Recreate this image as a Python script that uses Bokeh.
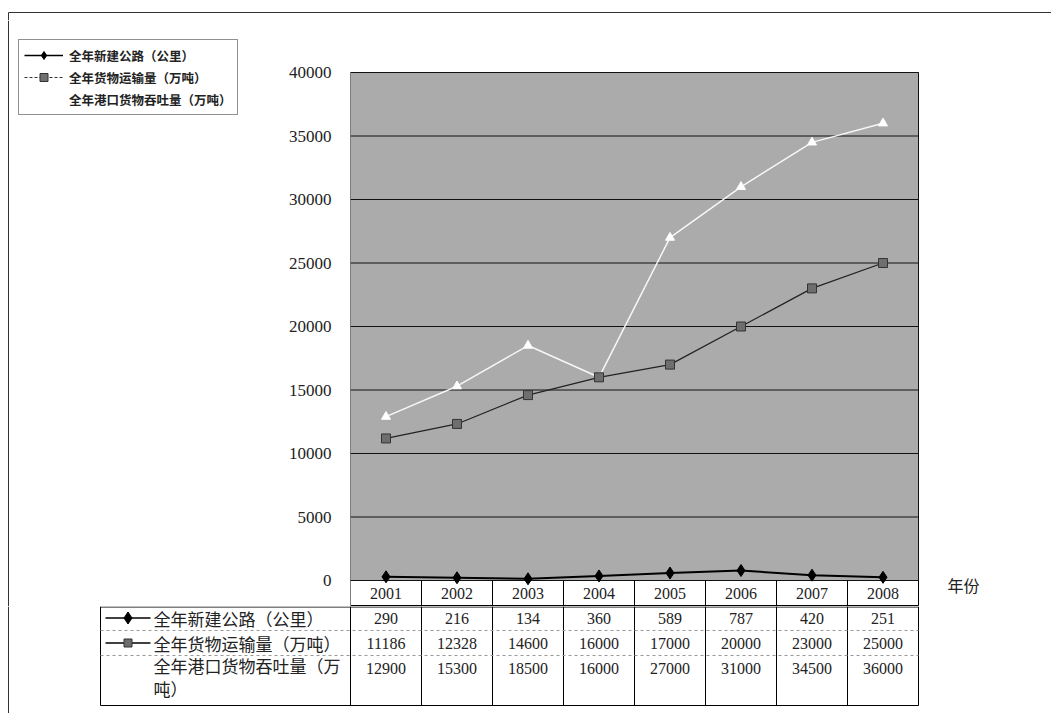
import numpy as np
from bokeh.plotting import figure
from bokeh.layouts import column, row
from bokeh.models import Range1d, FixedTicker, Legend, LegendItem
from bokeh.core.properties import value
from bokeh.embed import file_html
from bokeh.resources import INLINE

# ---------------- data ----------------
years = ["2001", "2002", "2003", "2004", "2005", "2006", "2007", "2008"]
new_roads = [290, 216, 134, 360, 589, 787, 420, 251]                # 全年新建公路（公里）
freight = [11186, 12328, 14600, 16000, 17000, 20000, 23000, 25000]  # 全年货物运输量（万吨）
port = [12900, 15300, 18500, 16000, 27000, 31000, 34500, 36000]     # 全年港口货物吞吐量（万吨）
series_names = ["全年新建公路（公里）", "全年货物运输量（万吨）", "全年港口货物吞吐量（万吨）"]
table_names = ["全年新建公路（公里）", "全年货物运输量（万吨）", "全年港口货物吞吐量（万\n吨）"]
x_title = "年份"
y_ticks = [0, 5000, 10000, 15000, 20000, 25000, 30000, 35000, 40000]

# ---------------- layout constants (pixels) ----------------
W, H = 1051, 713
STRIP_H = 20                 # thin strip carrying the outer top border
LEFT_W = 252                 # width of the legend figure
PLOT_L, PLOT_R = 350, 918    # plot area left/right
PLOT_T, ZERO_Y = 72, 580     # plot area top / zero line
ROW_Y = 605                  # bottom of year row
TOP_H = 606                  # bottom of upper row of figures
TABLE_L, TABLE_B = 100, 705
BORDER_X, BORDER_Y = 8, 12
n = len(years)
px_cat = (PLOT_R - PLOT_L) / n
px_val = (ZERO_Y - PLOT_T) / 40000.0

SERIF = value("Liberation Serif")
CJK = "Noto Sans CJK SC"
TXT = "#222222"
BORDER_C = "#333333"
xc = np.arange(n) + 0.5
edges = np.arange(n + 1)
OFF = [-1000, -1000]   # legend proxies sit far outside their figure


def fig(width, height, xr, yr, **kw):
    f = figure(width=width, height=height, x_range=xr, y_range=yr,
               output_backend="svg", toolbar_location=None,
               x_axis_location=None, min_border=0, **kw)
    f.outline_line_color = None
    f.grid.visible = False
    f.background_fill_color = "white"
    f.border_fill_color = "white"
    f.frame_align = False
    return f


# ---------------- strip: outer top border ----------------
S = fig(W, STRIP_H, Range1d(0, W), Range1d(STRIP_H, 0), y_axis_location=None)
S.segment(x0=[BORDER_X, BORDER_X], y0=[BORDER_Y, BORDER_Y], x1=[W, BORDER_X],
          y1=[BORDER_Y, STRIP_H], line_color=BORDER_C, line_width=1)

# ---------------- left figure: legend + outer border ----------------
L = fig(LEFT_W, TOP_H - STRIP_H, Range1d(0, LEFT_W), Range1d(TOP_H, STRIP_H),
        y_axis_location=None)
L.segment(x0=[BORDER_X], y0=[STRIP_H], x1=[BORDER_X], y1=[TOP_H], line_color=BORDER_C)
g1 = L.line(OFF, OFF, line_color="black", line_width=1.5)
g1m = L.scatter(OFF, OFF, marker="diamond", size=13, fill_color="black", line_color="black")
g2 = L.line(OFF, OFF, line_color="#333333", line_width=1, line_dash="3 2")
g2m = L.scatter(OFF, OFF, marker="square", size=8, fill_color="#707070", line_color="#333333")
g3 = L.line(OFF, OFF, line_color="white", line_width=1)
g3m = L.scatter(OFF, OFF, marker="triangle", size=8, fill_color="white", line_color="white")
legend = Legend(items=[
    LegendItem(label=series_names[0], renderers=[g1, g1m]),
    LegendItem(label=series_names[1], renderers=[g2, g2m]),
    LegendItem(label=series_names[2], renderers=[g3, g3m]),
], location=(18, TOP_H - 115))
legend.border_line_color = "#222222"
legend.border_line_width = 1
legend.background_fill_color = "white"
legend.background_fill_alpha = 1
legend.label_text_font = CJK
legend.label_text_font_size = "12.5px"
legend.label_text_font_style = "bold"
legend.label_text_color = TXT
legend.glyph_width = 39
legend.glyph_height = 20
legend.label_height = 20
legend.label_standoff = 6
legend.spacing = 2
legend.padding = 5
legend.margin = 0
L.add_layout(legend)

# ---------------- main figure: plot area + year row ----------------
P_W = W - LEFT_W
y_lo = -(TOP_H - ZERO_Y) / px_val
y_hi = (ZERO_Y - STRIP_H) / px_val
x_hi = (W - PLOT_L) / px_cat
P = fig(P_W, TOP_H - STRIP_H, Range1d(0, x_hi), Range1d(y_lo, y_hi),
        min_border_left=PLOT_L - LEFT_W)
ya = P.yaxis[0]
ya.ticker = FixedTicker(ticks=y_ticks)
ya.axis_line_color = None
ya.major_tick_line_color = None
ya.minor_tick_line_color = None
ya.major_label_standoff = 13
ya.major_label_text_font = "Liberation Serif"
ya.major_label_text_font_size = "17px"
ya.major_label_text_color = TXT

# gray plot area
P.quad(left=[0], right=[n], bottom=[0], top=[max(y_ticks)], fill_color="#ababab",
       line_color="#111111", line_width=1)
# gridlines
P.segment(x0=[0] * len(y_ticks), y0=y_ticks, x1=[n] * len(y_ticks), y1=y_ticks,
          line_color="#111111", line_width=1)
# year row cells
row_bottom = -(ROW_Y - ZERO_Y) / px_val
P.segment(x0=edges, y0=[row_bottom] * (n + 1), x1=edges, y1=[0] * (n + 1),
          line_color="black", line_width=1)
P.segment(x0=[0], y0=[row_bottom], x1=[n], y1=[row_bottom], line_color="black", line_width=1)
P.text(x=xc, y=[row_bottom / 2] * n, text=years, text_align="center",
       text_baseline="middle", text_font=SERIF, text_font_size="16px", text_color=TXT)
P.text(x=[n + 29 / px_cat], y=[-4 / px_val], text=[x_title], text_baseline="middle",
       text_font=value(CJK), text_font_size="16px", text_color=TXT)

# series
P.line(xc, port, line_color="white", line_width=1.5, alpha=0.9)
P.scatter(xc, port, marker="triangle", size=9, fill_color="white", line_color="white")
P.line(xc, freight, line_color="#222222", line_width=1.2)
P.scatter(xc, freight, marker="square", size=9, fill_color="#6e6e6e", line_color="#333333")
P.line(xc, new_roads, line_color="black", line_width=2)
P.scatter(xc, new_roads, marker="diamond", size=12, fill_color="black", line_color="black")

# ---------------- bottom figure: data table ----------------
T_H = H - TOP_H
x_lo = -PLOT_L / px_cat
T = fig(W, T_H, Range1d(x_lo, x_hi), Range1d(H, TOP_H), y_axis_location=None)
tl = (TABLE_L - PLOT_L) / px_cat
bx = x_lo + BORDER_X / px_cat
r1, r2, r3 = ROW_Y + 25, ROW_Y + 50, TABLE_B
# outer left border
T.segment(x0=[bx], y0=[TOP_H], x1=[bx], y1=[H], line_color=BORDER_C)
T.segment(x0=edges, y0=[TOP_H] * (n + 1), x1=edges, y1=[r3] * (n + 1), line_color="black")
T.segment(x0=[tl, tl], y0=[TOP_H, TOP_H + 0.5], x1=[tl, n], y1=[r3, TOP_H + 0.5],
          line_color="black")
T.segment(x0=[tl], y0=[r3], x1=[n], y1=[r3], line_color="black")
T.segment(x0=[tl, tl], y0=[r1, r2], x1=[n, n], y1=[r1, r2], line_color="#999999",
          line_dash="3 3")

row_centers = [(ROW_Y + r1) / 2, (r1 + r2) / 2, (r2 + r2 + 25) / 2]
for rc, vals in zip(row_centers, [new_roads, freight, port]):
    T.text(x=xc, y=[rc] * n, text=[str(v) for v in vals], text_align="center",
           text_baseline="middle", text_font=SERIF, text_font_size="16px", text_color=TXT)

lx0, lx1 = tl + 5 / px_cat, tl + 50 / px_cat
lxm = (lx0 + lx1) / 2
T.segment(x0=[lx0, lx0], y0=row_centers[:2], x1=[lx1, lx1], y1=row_centers[:2],
          line_color="black", line_width=1.5)
T.scatter([lxm], [row_centers[0]], marker="diamond", size=12, fill_color="black",
          line_color="black")
T.scatter([lxm], [row_centers[1]], marker="square", size=8, fill_color="#6e6e6e",
          line_color="#333333")
tx = tl + 53 / px_cat
T.text(x=[tx, tx], y=row_centers[:2], text=table_names[:2], text_baseline="middle",
       text_font=value(CJK), text_font_size="17px", text_color=TXT)
T.text(x=[tx], y=[r2 - 3], text=[table_names[2]], text_baseline="top",
       text_font=value(CJK), text_font_size="17px", text_color=TXT, text_line_height=0.95)

layout = column(S, row(L, P, spacing=0), T, spacing=0)
open("out.html", "w").write(file_html(layout, INLINE))
